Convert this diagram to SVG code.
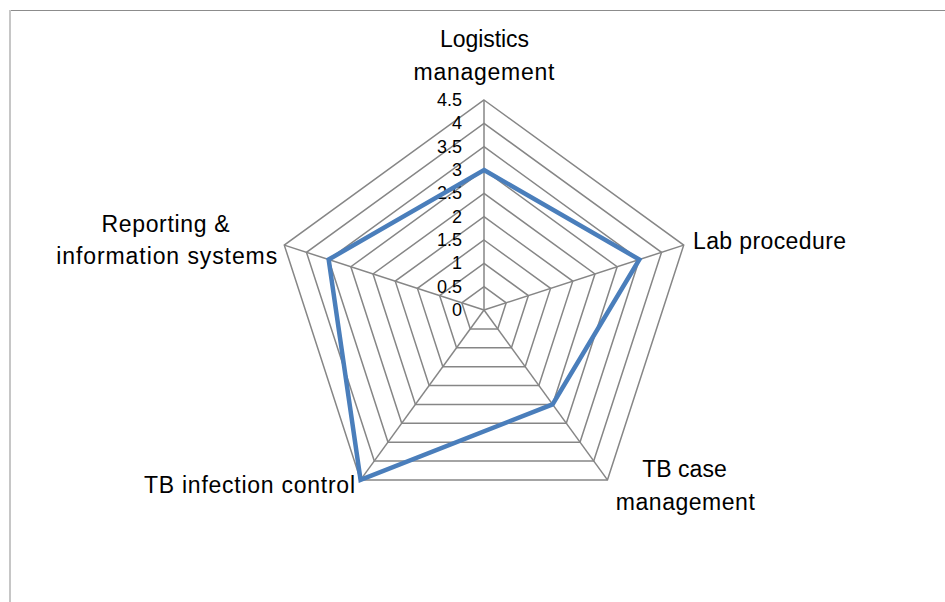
<svg xmlns="http://www.w3.org/2000/svg" width="945" height="602" viewBox="0 0 945 602">
<style>
.grid{fill:none;stroke:#868686;stroke-width:1.5;stroke-linejoin:miter}
.spoke{stroke:#868686;stroke-width:1.5}
.data{fill:none;stroke:#4A7EBB;stroke-width:4.5;stroke-linejoin:miter}
.lbl{font-family:"Liberation Sans",Arial,sans-serif;font-size:23px;fill:#000}
.tick{font-family:"Liberation Sans",Arial,sans-serif;font-size:18px;fill:#000;text-anchor:end}
</style>
<rect width="945" height="602" fill="#ffffff"/>
<g id="frame">
<line x1="9" y1="10.5" x2="945" y2="10.5" stroke="#8c8c8c" stroke-width="1"/>
<line x1="10" y1="10" x2="10" y2="602" stroke="#c6c6c6" stroke-width="2"/>
</g>
<g id="grid">
<polygon class="grid" points="484,286.67 506.19,302.79 497.72,328.88 470.28,328.88 461.81,302.79"/>
<polygon class="grid" points="484,263.33 528.38,295.58 511.43,347.75 456.57,347.75 439.62,295.58"/>
<polygon class="grid" points="484,240 550.57,288.37 525.15,366.63 442.85,366.63 417.43,288.37"/>
<polygon class="grid" points="484,216.67 572.76,281.16 538.86,385.51 429.14,385.51 395.24,281.16"/>
<polygon class="grid" points="484,193.33 594.96,273.95 552.58,404.39 415.42,404.39 373.04,273.95"/>
<polygon class="grid" points="484,170 617.15,266.74 566.29,423.26 401.71,423.26 350.85,266.74"/>
<polygon class="grid" points="484,146.67 639.34,259.53 580.01,442.14 387.99,442.14 328.66,259.53"/>
<polygon class="grid" points="484,123.33 661.53,252.32 593.72,461.02 374.28,461.02 306.47,252.32"/>
<polygon class="grid" points="484,100 683.72,245.11 607.44,479.9 360.56,479.9 284.28,245.11"/>
<line class="spoke" x1="484" y1="310" x2="484" y2="100"/>
<line class="spoke" x1="484" y1="310" x2="683.72" y2="245.11"/>
<line class="spoke" x1="484" y1="310" x2="607.44" y2="479.9"/>
<line class="spoke" x1="484" y1="310" x2="360.56" y2="479.9"/>
<line class="spoke" x1="484" y1="310" x2="284.28" y2="245.11"/>
</g>
<g id="ticks">
<text class="tick" x="462" y="316">0</text>
<text class="tick" x="462" y="292.7">0.5</text>
<text class="tick" x="462" y="269.3">1</text>
<text class="tick" x="462" y="246">1.5</text>
<text class="tick" x="462" y="222.7">2</text>
<text class="tick" x="462" y="199.3">2.5</text>
<text class="tick" x="462" y="176">3</text>
<text class="tick" x="462" y="152.7">3.5</text>
<text class="tick" x="462" y="129.3">4</text>
<text class="tick" x="462" y="106">4.5</text>
</g>
<g id="series">
<polygon class="data" points="484,170 639.34,259.53 552.58,404.39 360.56,479.9 328.66,259.53"/>
</g>
<g id="axis-logistics">
<text class="lbl" x="484.5" y="47" text-anchor="middle" textLength="89">Logistics</text>
<text class="lbl" x="484" y="80" text-anchor="middle" textLength="141">management</text>
</g>
<g id="axis-lab">
<text class="lbl" x="693" y="249" textLength="153">Lab procedure</text>
</g>
<g id="axis-case">
<text class="lbl" x="684.5" y="477" text-anchor="middle">TB case</text>
<text class="lbl" x="685.3" y="510" text-anchor="middle" textLength="139">management</text>
</g>
<g id="axis-infection">
<text class="lbl" x="144" y="493" textLength="211">TB infection control</text>
</g>
<g id="axis-reporting">
<text class="lbl" x="165.5" y="232" text-anchor="middle" textLength="128">Reporting &amp;</text>
<text class="lbl" x="166.7" y="264" text-anchor="middle" textLength="221">information systems</text>
</g>
</svg>
